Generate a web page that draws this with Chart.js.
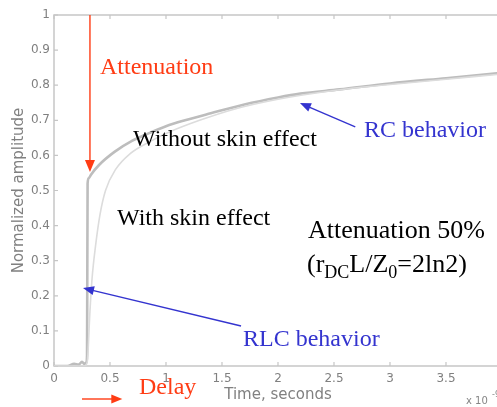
<!DOCTYPE html>
<html><head><meta charset="utf-8">
<script src="https://cdn.jsdelivr.net/npm/chart.js@4/dist/chart.umd.min.js"></script>
<style>html,body{margin:0;padding:0;overflow:hidden;background:#fff;width:497px;height:407px}canvas{display:block}</style>
</head><body><canvas id="c" width="520" height="407" style="width:520px;height:407px"></canvas>
<script>
// Time in units of 1e-9 s (axis multiplier shown as "x 10")
const timeRC = [0, 0.12, 0.18, 0.22, 0.25, 0.27, 0.29, 0.295, 0.30, 0.31, 0.33, 0.40, 0.54, 0.70, 0.81, 1.00, 1.17, 1.40, 1.70, 2.00, 2.20, 2.55, 3.00, 3.50, 4.00];
const ampRC  = [0, 0.000, 0.006, 0.004, 0.012, 0.006, 0.010, 0.03, 0.52, 0.535, 0.545, 0.572, 0.610, 0.642, 0.658, 0.683, 0.700, 0.720, 0.745, 0.765, 0.776, 0.788, 0.805, 0.820, 0.835];
const timeSkin = [0, 0.27, 0.29, 0.30, 0.32, 0.34, 0.37, 0.41, 0.46, 0.55, 0.68, 0.86, 1.04, 1.30, 1.60, 2.00, 2.50, 3.00, 3.50, 4.00];
const ampSkin  = [0, 0.000, 0.005, 0.02, 0.15, 0.25, 0.34, 0.43, 0.50, 0.56, 0.605, 0.640, 0.668, 0.700, 0.731, 0.760, 0.785, 0.802, 0.817, 0.832];
const xTicks = [0, 0.5, 1, 1.5, 2, 2.5, 3, 3.5, 4];
const yTicks = [0, 0.1, 0.2, 0.3, 0.4, 0.5, 0.6, 0.7, 0.8, 0.9, 1];

const RED = '#ff3c14', BLUE = '#3434cf';
const fmt = v => String(Math.round(v * 10) / 10);

function arrow(ctx, x1, y1, x2, y2, color, hl, hw) {
  const ang = Math.atan2(y2 - y1, x2 - x1);
  ctx.strokeStyle = color; ctx.fillStyle = color; ctx.lineWidth = 1.4;
  ctx.beginPath(); ctx.moveTo(x1, y1);
  ctx.lineTo(x2 - Math.cos(ang) * hl * 0.8, y2 - Math.sin(ang) * hl * 0.8); ctx.stroke();
  ctx.beginPath(); ctx.moveTo(x2, y2);
  ctx.lineTo(x2 - Math.cos(ang) * hl + Math.sin(ang) * hw / 2, y2 - Math.sin(ang) * hl - Math.cos(ang) * hw / 2);
  ctx.lineTo(x2 - Math.cos(ang) * hl - Math.sin(ang) * hw / 2, y2 - Math.sin(ang) * hl + Math.cos(ang) * hw / 2);
  ctx.closePath(); ctx.fill();
}

const frame = {
  id: 'frame',
  beforeDatasetsDraw(chart) {
    const {ctx, chartArea: a, scales: {x, y}} = chart;
    ctx.save();
    ctx.strokeStyle = '#c6c6c6'; ctx.lineWidth = 1.5;
    ctx.strokeRect(a.left, a.top, a.right - a.left, a.bottom - a.top);
    ctx.lineWidth = 1.2;
    ctx.beginPath();
    x.ticks.forEach(t => { const px = x.getPixelForValue(t.value);
      ctx.moveTo(px, a.bottom); ctx.lineTo(px, a.bottom - 4);
      ctx.moveTo(px, a.top); ctx.lineTo(px, a.top + 4); });
    y.ticks.forEach(t => { const py = y.getPixelForValue(t.value);
      ctx.moveTo(a.left, py); ctx.lineTo(a.left + 4, py);
      ctx.moveTo(a.right, py); ctx.lineTo(a.right - 4, py); });
    ctx.stroke();
    ctx.restore();
  },
  afterDraw(chart) {
    const {ctx, scales: {x, y}} = chart;
    const X = v => x.getPixelForValue(v), Y = v => y.getPixelForValue(v);
    ctx.save();
    // multiplier
    ctx.fillStyle = '#858585'; ctx.font = '10px "DejaVu Sans"'; ctx.textBaseline = 'alphabetic';
    ctx.fillText('x 10', 466, 404);
    ctx.font = '8px "DejaVu Sans"'; ctx.fillText('-9', 492, 397);
    // arrows
    arrow(ctx, X(0.321), Y(1.0), X(0.321), Y(0.553), RED, 12, 10);
    arrow(ctx, X(2.69), Y(0.681), X(2.196), Y(0.749), BLUE, 11, 9);
    arrow(ctx, X(1.67), Y(0.114), X(0.259), Y(0.222), BLUE, 11, 9);
    arrow(ctx, X(0.25), 399, X(0.61), 399, RED, 11, 9);
    // texts
    const serif = s => s + 'px "Liberation Serif", "Times New Roman", serif';
    ctx.textAlign = 'left'; ctx.textBaseline = 'alphabetic';
    ctx.font = serif(24);
    ctx.fillStyle = RED;
    ctx.fillText('Attenuation', 100, 74);
    ctx.fillText('Delay', 139, 394);
    ctx.fillStyle = '#000';
    ctx.fillText('Without skin effect', 133, 146);
    ctx.fillText('With skin effect', 117, 225);
    ctx.fillStyle = BLUE;
    ctx.fillText('RC behavior', 364, 137);
    ctx.fillText('RLC behavior', 243, 346);
    ctx.fillStyle = '#000';
    ctx.font = serif(26);
    ctx.fillText('Attenuation 50%', 308, 238);
    // (r_DC L / Z_0 = 2ln2)
    let cx = 307; const by = 272;
    const part = (t, size, dy) => { ctx.font = serif(size); ctx.fillText(t, cx, by + dy); cx += ctx.measureText(t).width; };
    part('(r', 26, 0); part('DC', 18, 6); part('L/Z', 26, 0); part('0', 18, 6); part('=2ln2)', 26, 0);
    ctx.restore();
  }
};

new Chart(document.getElementById('c'), {
  type: 'line',
  data: {
    datasets: [
      { label: 'With skin effect', data: timeSkin.map((t, i) => ({x: t, y: ampSkin[i]})),
        borderColor: '#dcdcdc', borderWidth: 1.6, pointRadius: 0, cubicInterpolationMode: 'monotone' },
      { label: 'Without skin effect', data: timeRC.map((t, i) => ({x: t, y: ampRC[i]})),
        borderColor: '#bdbdbd', borderWidth: 2.6, pointRadius: 0, cubicInterpolationMode: 'monotone' }
    ]
  },
  options: {
    responsive: false, animation: false, devicePixelRatio: 1,
    layout: { padding: { top: 15, right: 18, left: 0, bottom: 0 } },
    plugins: { legend: { display: false }, tooltip: { enabled: false } },
    scales: {
      x: { type: 'linear', min: 0, max: 4,
        afterBuildTicks: s => { s.ticks = xTicks.map(v => ({value: v})); },
        afterFit: s => { s.height = 41; },
        grid: { display: false, drawTicks: false }, border: { display: false },
        ticks: { autoSkip: false, maxRotation: 0, padding: 6, color: '#808080',
          font: { family: 'DejaVu Sans', size: 12 }, callback: v => fmt(v) },
        title: { display: true, text: 'Time, seconds', color: '#808080',
          font: { family: 'DejaVu Sans', size: 15 }, padding: { top: 0, bottom: 3 } } },
      y: { type: 'linear', min: 0, max: 1,
        afterBuildTicks: s => { s.ticks = yTicks.map(v => ({value: v})); },
        afterFit: s => { s.width = 54; },
        grid: { display: false, drawTicks: false }, border: { display: false },
        ticks: { autoSkip: false, padding: 4, color: '#808080',
          font: { family: 'DejaVu Sans', size: 12 }, callback: v => fmt(v) },
        title: { display: true, text: 'Normalized amplitude', color: '#808080',
          font: { family: 'DejaVu Sans', size: 15 }, padding: { top: 10, bottom: 0 } } }
    }
  },
  plugins: [frame]
});
</script></body></html>
